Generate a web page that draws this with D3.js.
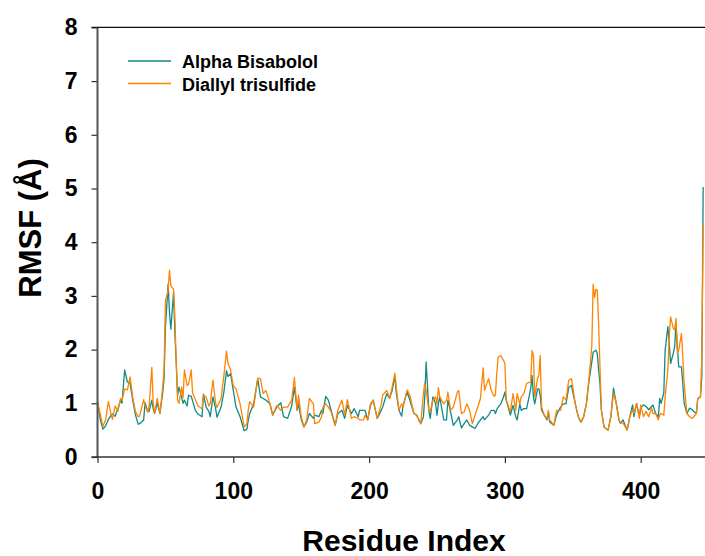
<!DOCTYPE html>
<html>
<head>
<meta charset="utf-8">
<script src="https://cdn.jsdelivr.net/npm/d3@7"></script>
<style>
  body { margin: 0; background: #fff; }
  text { font-family: "Liberation Sans", Arial, sans-serif; font-weight: bold; }
</style>
</head>
<body>
<div id="container"></div>
<script>
const width = 705,
  height = 556;

/* DATA */
const residue = [
  0, 2, 4, 6, 8, 10, 11, 13, 15, 17,
  18, 20, 22, 24, 26, 28, 30, 31, 34, 35,
  37, 38, 40, 41, 42, 44, 46, 48, 49, 50,
  52, 53, 54, 56, 57, 58, 59, 60, 62, 63,
  64, 66, 67, 69, 70, 72, 74, 77, 78, 80,
  82, 83, 85, 87, 88, 91, 93, 95, 96, 98,
  100, 102, 105, 108, 110, 111, 112, 115, 118, 120,
  122, 124, 127, 129, 132, 135, 137, 140, 143, 145,
  147, 148, 150, 152, 154, 156, 159, 160, 163, 165,
  166, 168, 170, 172, 175, 177, 180, 182, 184, 187,
  189, 192, 193, 196, 197, 199, 201, 203, 206, 209,
  210, 213, 215, 217, 219, 220, 222, 224, 225, 228,
  230, 233, 235, 238, 240, 241, 242, 244, 245, 247,
  249, 250, 251, 252, 255, 257, 258, 260, 262, 265,
  266, 268, 270, 272, 274, 276, 278, 280, 282, 284,
  285, 288, 290, 292, 293, 294, 295, 297, 299, 300,
  301, 304, 306, 308, 309, 311, 312, 314, 316, 319,
  320, 321, 322, 324, 325, 326, 327, 329, 331, 332,
  333, 336, 338, 341, 343, 345, 347, 349, 352, 354,
  356, 358, 360, 362, 364, 365, 366, 367, 368, 369,
  370, 371, 373, 376, 378, 380, 382, 384, 385, 387,
  390, 392, 394, 395, 397, 399, 400, 402, 404, 406,
  408, 409, 411, 413, 414, 415, 417, 418, 420, 421,
  422, 424, 425, 426, 427, 428, 430, 431, 432, 434,
  436, 438, 439, 441, 442, 444, 445, 446
]

const alphaBisabolol = [
  1.03, 0.70, 0.52, 0.58, 0.70, 0.78, 0.80, 0.76, 0.90, 1.06,
  1.00, 1.62, 1.40, 1.37, 1.05, 0.78, 0.61, 0.62, 0.69, 1.01,
  0.84, 0.85, 1.06, 0.90, 0.81, 1.00, 0.81, 1.20, 1.45, 2.40,
  3.22, 2.70, 2.38, 3.06, 2.30, 1.74, 1.15, 1.30, 1.10, 1.00,
  1.06, 0.95, 1.15, 1.13, 1.05, 0.87, 0.80, 0.75, 1.17, 0.93,
  0.85, 0.75, 1.12, 0.90, 0.74, 0.93, 1.20, 1.61, 1.50, 1.55,
  1.24, 0.93, 0.75, 0.49, 0.52, 0.69, 0.80, 0.99, 1.46, 1.12,
  1.09, 1.06, 0.99, 0.78, 0.93, 1.01, 0.75, 0.72, 0.95, 1.30,
  0.87, 0.99, 0.70, 0.56, 0.65, 0.81, 0.72, 0.78, 0.75, 0.87,
  0.81, 1.13, 1.06, 0.87, 0.59, 0.81, 0.87, 0.72, 0.96, 0.81,
  0.90, 0.75, 0.87, 0.87, 0.87, 0.69, 0.96, 1.06, 0.72, 0.87,
  0.93, 1.18, 1.09, 1.24, 1.50, 1.20, 0.87, 0.76, 0.96, 1.21,
  1.06, 0.81, 0.78, 0.62, 0.75, 1.12, 1.77, 0.87, 0.72, 1.12,
  0.99, 0.78, 0.99, 1.12, 0.69, 0.69, 1.06, 0.84, 0.59, 0.69,
  0.75, 0.54, 0.62, 0.69, 0.59, 0.56, 0.53, 0.62, 0.69, 0.75,
  0.69, 0.78, 0.87, 0.87, 0.81, 0.88, 0.93, 0.99, 1.12, 1.21,
  1.06, 0.78, 0.96, 0.75, 0.69, 0.99, 0.87, 0.90, 0.90, 1.27,
  1.52, 1.12, 0.99, 1.27, 1.27, 1.15, 0.87, 0.78, 0.69, 0.84,
  0.65, 0.59, 0.78, 0.93, 0.99, 0.99, 1.30, 1.33, 0.97, 0.75,
  0.65, 0.75, 0.99, 1.43, 1.77, 1.95, 1.97, 1.99, 1.93, 1.62,
  1.37, 0.88, 0.56, 0.50, 0.75, 1.28, 1.00, 0.69, 0.63, 0.69,
  0.50, 0.75, 0.97, 0.75, 1.00, 0.75, 0.91, 0.97, 0.94, 0.88,
  0.94, 0.97, 0.81, 0.75, 1.09, 1.00, 1.19, 1.99, 2.43, 2.12,
  1.74, 1.93, 2.05, 2.49, 2.05, 1.68, 1.68, 1.37, 1.00, 0.81,
  0.91, 0.88, 0.85, 0.81, 1.09, 1.12, 1.50, 5.03
]

const diallylTrisulfide = [
  1.03, 0.80, 0.57, 0.70, 1.03, 0.80, 0.70, 0.95, 0.85, 1.09,
  1.05, 1.27, 1.25, 1.49, 1.10, 0.84, 0.75, 0.76, 1.07, 0.95,
  0.84, 0.95, 1.67, 1.00, 0.81, 1.09, 0.81, 1.30, 1.60, 2.90,
  3.10, 3.48, 3.19, 3.12, 2.60, 1.74, 1.06, 1.00, 1.30, 1.10,
  1.62, 1.33, 1.35, 1.62, 1.20, 1.07, 0.95, 0.90, 1.15, 1.12,
  0.95, 0.99, 1.43, 1.00, 0.92, 1.09, 1.50, 1.97, 1.75, 1.62,
  1.33, 1.27, 0.99, 0.56, 0.62, 0.87, 1.03, 0.93, 1.47, 1.46,
  1.18, 1.24, 0.99, 0.78, 0.96, 0.87, 0.93, 0.93, 1.06, 1.48,
  0.87, 1.15, 0.75, 0.56, 0.69, 1.09, 0.99, 0.62, 0.65, 0.75,
  0.93, 0.99, 0.93, 0.84, 0.59, 0.87, 1.06, 0.78, 1.07, 0.72,
  0.75, 0.72, 0.69, 0.69, 0.78, 0.69, 0.99, 1.06, 0.72, 0.99,
  1.15, 1.24, 1.09, 1.30, 1.56, 1.30, 0.87, 0.99, 0.93, 1.25,
  1.15, 0.81, 0.78, 0.62, 1.18, 1.38, 1.24, 0.87, 0.84, 1.06,
  1.12, 0.99, 1.29, 1.12, 0.99, 1.06, 1.21, 0.87, 0.93, 1.21,
  1.24, 0.81, 0.84, 0.99, 0.87, 0.62, 0.78, 0.93, 1.09, 1.66,
  1.24, 1.46, 1.24, 1.13, 1.15, 1.55, 1.86, 1.89, 1.80, 1.74,
  1.06, 0.84, 1.18, 0.87, 1.18, 0.99, 1.12, 1.18, 1.37, 1.40,
  1.98, 1.89, 1.12, 1.46, 1.52, 1.89, 0.93, 0.78, 0.72, 0.87,
  0.69, 0.59, 0.87, 0.87, 1.12, 1.06, 1.43, 1.46, 0.97, 0.75,
  0.65, 0.75, 0.99, 1.49, 2.07, 3.22, 2.97, 3.12, 3.11, 2.49,
  1.68, 0.88, 0.56, 0.50, 0.75, 1.19, 1.00, 0.69, 0.63, 0.63,
  0.50, 0.75, 0.88, 0.81, 1.00, 0.72, 0.97, 0.75, 0.85, 0.75,
  0.91, 0.81, 0.81, 0.69, 0.78, 0.81, 0.78, 1.12, 1.62, 2.24,
  2.61, 2.40, 2.37, 2.58, 1.93, 1.99, 2.30, 1.87, 1.37, 0.81,
  0.75, 0.72, 0.75, 0.81, 1.09, 1.12, 1.87, 4.32
]

const seriesNames = ["Alpha Bisabolol", "Diallyl trisulfide"]
const seriesColors = ["#0f8a86", "#ff8400"]
const xTicks = [0, 100, 200, 300, 400]
const yTicks = [0, 1, 2, 3, 4, 5, 6, 7, 8]

const series = [alphaBisabolol, diallylTrisulfide].map((vals, i) => ({
  name: seriesNames[i],
  color: seriesColors[i],
  values: vals.map((v, j) => ({ r: residue[j], v: v }))
}))

/* SCALES */
const xScale = d3.scaleLinear()
  .domain([0, 450])
  .range([97.5, 708.6])

const yScale = d3.scaleLinear()
  .domain([0, 8])
  .range([457, 27.4])

const svg = d3.select("#container").append("svg")
  .attr("width", width)
  .attr("height", height)

// lines
const line = d3.line()
  .x(d => xScale(d.r))
  .y(d => yScale(d.v))

svg.selectAll("path.series")
  .data(series)
  .join("path")
  .attr("class", "series")
  .attr("d", d => line(d.values))
  .attr("fill", "none")
  .attr("stroke", d => d.color)
  .attr("stroke-width", 1.3)
  .attr("stroke-linejoin", "round")

/* AXES */
const yAxis = d3.axisLeft(yScale)
  .tickValues(yTicks)
  .tickFormat(d3.format("d"))
  .tickSize(6)
  .tickPadding(14)

const xAxis = d3.axisBottom(xScale)
  .tickValues(xTicks)
  .tickSize(6)
  .tickPadding(20)

svg.append("g")
  .attr("class", "y-axis")
  .attr("transform", `translate(${xScale(0)},0)`)
  .call(yAxis)

svg.append("g")
  .attr("class", "x-axis")
  .attr("transform", `translate(0,${yScale(0)})`)
  .call(xAxis)

svg.selectAll(".domain").remove()
svg.selectAll(".tick line").attr("stroke", "#333").attr("stroke-width", 1.2)
svg.selectAll(".tick text")
  .attr("fill", "#000")
  .attr("font-size", "23px")
  .attr("font-family", "Liberation Sans, Arial, sans-serif")
  .attr("font-weight", "bold")

// frame lines
svg.append("line")
  .attr("x1", xScale(0)).attr("x2", xScale(0))
  .attr("y1", yScale(8)).attr("y2", yScale(0))
  .attr("stroke", "#555").attr("stroke-width", 2)

svg.append("line")
  .attr("x1", xScale(0) - 6).attr("x2", width)
  .attr("y1", yScale(0)).attr("y2", yScale(0))
  .attr("stroke", "#333").attr("stroke-width", 1.5)

svg.append("line")
  .attr("x1", xScale(0) - 6).attr("x2", width)
  .attr("y1", yScale(8)).attr("y2", yScale(8))
  .attr("stroke", "#111").attr("stroke-width", 1.2)

/* LABELS */
svg.append("text")
  .attr("x", 404)
  .attr("y", 551)
  .attr("text-anchor", "middle")
  .attr("font-size", "30px")
  .text("Residue Index")

svg.append("text")
  .attr("transform", "rotate(-90)")
  .attr("x", -228)
  .attr("y", 41)
  .attr("text-anchor", "middle")
  .attr("font-size", "31px")
  .text("RMSF (Å)")

/* LEGEND */
const legend = svg.selectAll("g.legend")
  .data(series)
  .join("g")
  .attr("class", "legend")
  .attr("transform", (d, i) => `translate(128,${61 + i * 22.5})`)

legend.append("line")
  .attr("x1", 0).attr("x2", 43)
  .attr("stroke", d => d.color)
  .attr("stroke-width", 1.4)

legend.append("text")
  .attr("x", 54)
  .attr("y", 7)
  .attr("font-size", "18px")
  .text(d => d.name)
</script>
</body>
</html>
